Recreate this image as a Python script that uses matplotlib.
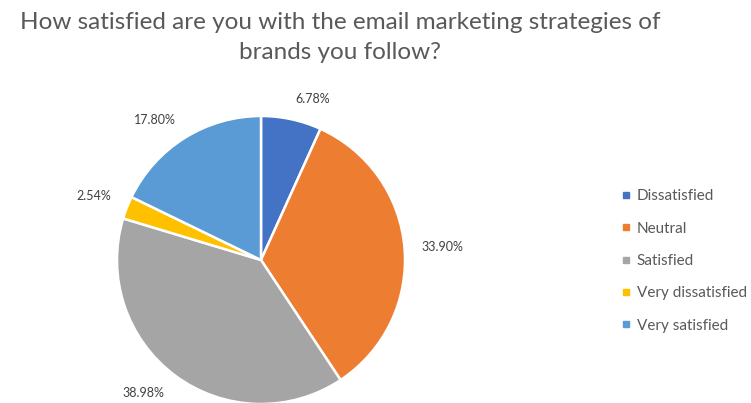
import numpy as np
import matplotlib
matplotlib.use("Agg")
import matplotlib.pyplot as plt
from matplotlib.lines import Line2D

categories = ["Dissatisfied", "Neutral", "Satisfied", "Very dissatisfied", "Very satisfied"]
shares = [6.78, 33.90, 38.98, 2.54, 17.80]
colors = ["#4472C4", "#ED7D31", "#A5A5A5", "#FFC000", "#5B9BD5"]
title = "How satisfied are you with the email marketing strategies of\nbrands you follow?"

plt.rcParams["font.family"] = ["Lato", "DejaVu Sans"]

W, H = 751, 403
fig = plt.figure(figsize=(W / 100, H / 100), dpi=100)

# pie box in pixel terms: centre (261, 260), radius 144
cx, cy, r = 261, 260, 144
ax = fig.add_axes([(cx - r) / W, (H - cy - r) / H, 2 * r / W, 2 * r / H])
wedges, _ = ax.pie(shares, colors=colors, startangle=90, counterclock=False,
                   radius=1.0, wedgeprops=dict(edgecolor="white", linewidth=1.8))
ax.set_xlim(-1, 1)
ax.set_ylim(-1, 1)
ax.set_aspect("equal")
ax.axis("off")

# value labels just outside each wedge
for w, v in zip(wedges, shares):
    ang = np.deg2rad((w.theta1 + w.theta2) / 2)
    c, s = np.cos(ang), np.sin(ang)
    ha = "left" if c > 0.15 else ("right" if c < -0.15 else "center")
    va = "bottom" if s > 0.3 else ("top" if s < -0.3 else "center")
    ax.text(1.12 * c, 1.1 * s, f"{v:.2f}%", ha=ha, va=va, fontsize=9,
            color="#404040", clip_on=False)

fig.text(340 / W, 1 - 12 / H, title, ha="center", va="top", fontsize=17.5,
         color="#595959", linespacing=1.55)

handles = [Line2D([0], [0], marker="s", linestyle="none", markersize=5,
                  markerfacecolor=col, markeredgecolor=col) for col in colors]
fig.legend(handles, categories, loc="center left",
           bbox_to_anchor=(622 / W, 1 - 261 / H),
           frameon=False, fontsize=11, labelcolor="#595959",
           handlelength=0.5, handletextpad=0.45, labelspacing=1.2,
           borderpad=0, borderaxespad=0)

fig.savefig("out.png", dpi=100)
